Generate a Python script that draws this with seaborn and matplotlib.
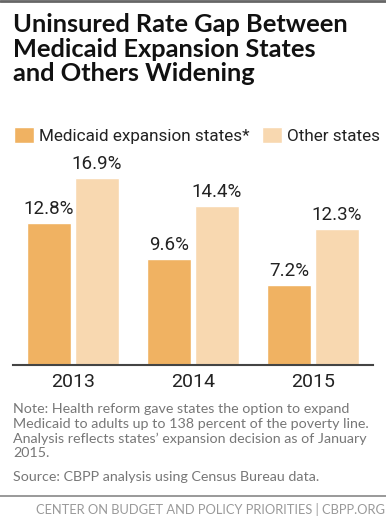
import pandas as pd
import matplotlib.pyplot as plt
import matplotlib.lines as mlines
import seaborn as sns

# chart data
years = ["2013", "2014", "2015"]
expansion_rates = [12.8, 9.6, 7.2]
other_rates = [16.9, 14.4, 12.3]
series_names = ["Medicaid expansion states*", "Other states"]

df = pd.DataFrame({
    "year": years * 2,
    "rate": expansion_rates + other_rates,
    "group": [series_names[0]] * 3 + [series_names[1]] * 3,
})

W, H = 386, 522
sns.set_style("white")
plt.rcParams["font.family"] = ["Lato", "DejaVu Sans"]

fig = plt.figure(figsize=(W / 100, H / 100), dpi=100)


def fx(px):
    return px / W


def fy(py):
    return 1 - py / H


# axes: x 13..373 px, baseline at y=365 px, 11.07 px per point
ymax = 20
top_px = 365 - ymax * 11.07
ax = fig.add_axes([fx(13), fy(365), fx(360), (365 - top_px) / H])

palette = {series_names[0]: "#F0B262", series_names[1]: "#F8D8B0"}
sns.barplot(data=df, x="year", y="rate", hue="group", palette=palette,
            width=0.8, gap=0.083, saturation=1, ax=ax, legend=True)

for c in ax.containers:
    ax.bar_label(c, labels=[f"{v:.1f}%" for v in c.datavalues], padding=3.5,
                 fontsize=13.5, color="#222222", family="Roboto")

ax.set_xlim(-0.5, 2.5)
ax.set_ylim(0, ymax)
ax.set_xlabel("")
ax.set_ylabel("")
ax.set_yticks([])
sns.despine(ax=ax, left=True, top=True, right=True)
ax.spines["bottom"].set_color("#444444")
ax.spines["bottom"].set_linewidth(1.5)
ax.tick_params(axis="x", length=0, pad=6, labelsize=14, labelcolor="#222222")
for t in ax.get_xticklabels():
    t.set_family("Roboto")

handles, labels = ax.get_legend_handles_labels()
ax.legend(handles, labels, ncol=2, frameon=False, loc="upper left",
          bbox_to_anchor=(fx(14), fy(127)), bbox_transform=fig.transFigure,
          prop={"family": "Roboto", "size": 12.3}, handlelength=1.18,
          handleheight=1.1, handletextpad=0.3, columnspacing=0.7,
          borderaxespad=0, borderpad=0, labelcolor="#222222")

# title
fig.text(fx(13), fy(13), "Uninsured Rate Gap Between\nMedicaid Expansion States\nand Others Widening",
         ha="left", va="top", fontsize=18.3, fontweight="bold", color="#111111",
         linespacing=1.08)

# notes
note = ("Note: Health reform gave states the option to expand\n"
        "Medicaid to adults up to 138 percent of the poverty line.\n"
        "Analysis reflects states\u2019 expansion decision as of January\n"
        "2015.")
fig.text(fx(13), fy(403), note, ha="left", va="top", fontsize=10.3,
         color="#777777", linespacing=1.25)
fig.text(fx(13), fy(471), "Source: CBPP analysis using Census Bureau data.",
         ha="left", va="top", fontsize=10.3, color="#777777")

# frame lines and footer
fig.add_artist(mlines.Line2D([0, 1], [fy(1), fy(1)], color="#666666", lw=2,
                             transform=fig.transFigure))
fig.add_artist(mlines.Line2D([0, 1], [fy(496), fy(496)], color="#888888", lw=1.2,
                             transform=fig.transFigure))
fig.text(fx(385), fy(509), "CENTER ON BUDGET AND POLICY PRIORITIES | CBPP.ORG",
         ha="right", va="center", fontsize=9.3, color="#999999")

fig.savefig("out.png", dpi=100)
